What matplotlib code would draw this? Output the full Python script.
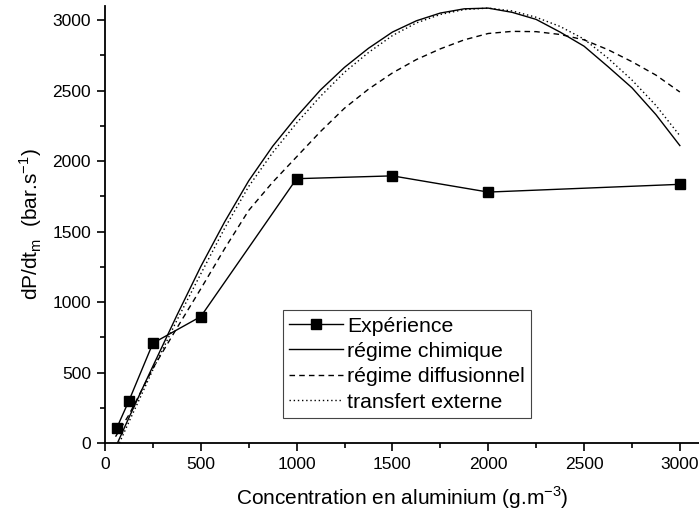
import matplotlib
matplotlib.use("Agg")
import matplotlib.pyplot as plt
from matplotlib.ticker import MultipleLocator

plt.rcParams['font.family'] = ['Liberation Sans', 'DejaVu Sans']

# Experimental points
exp_x = [62.5, 125, 250, 500, 1000, 1500, 2000, 3000]
exp_y = [110, 300, 708, 897, 1875, 1895, 1780, 1835]

# Model curves (dP/dt max vs. aluminium concentration)
chem_x = [65, 125, 188, 250, 375, 500, 625, 750, 875, 1000, 1125, 1250, 1375, 1500,
          1625, 1750, 1875, 2000, 2125, 2250, 2375, 2500, 2625, 2750, 2875, 3000]
chem_y = [0, 180, 365, 545, 905, 1252, 1570, 1860, 2105, 2315, 2505, 2665, 2800, 2915,
          2995, 3050, 3080, 3085, 3055, 3005, 2915, 2815, 2670, 2520, 2330, 2110]

diff_x = [55, 125, 188, 250, 375, 500, 625, 750, 875, 1000, 1125, 1250, 1375, 1500,
          1625, 1750, 1875, 2000, 2125, 2250, 2375, 2500, 2625, 2750, 2875, 3000]
diff_y = [45, 200, 365, 530, 815, 1094, 1380, 1650, 1850, 2030, 2210, 2375, 2510, 2625,
          2720, 2796, 2860, 2905, 2920, 2918, 2898, 2860, 2790, 2705, 2610, 2490]

ext_x = [75, 125, 188, 250, 375, 500, 625, 750, 875, 1000, 1125, 1250, 1375, 1500,
         1625, 1750, 1875, 2000, 2125, 2250, 2375, 2500, 2625, 2750, 2875, 3000]
ext_y = [0, 150, 335, 520, 870, 1200, 1525, 1820, 2060, 2270, 2460, 2630, 2770, 2890,
         2980, 3040, 3075, 3085, 3065, 3020, 2955, 2865, 2730, 2575, 2395, 2180]

fig = plt.figure(figsize=(6.99, 5.17), dpi=100)
ax = fig.add_axes([0.1502, 0.1431, 0.8498, 0.8453])

ax.plot(exp_x, exp_y, color='black', lw=1.0, marker='s', markersize=7.5,
        label='Expérience')
ax.plot(chem_x, chem_y, color='black', lw=1.0, ls='-', label='régime chimique')
ax.plot(diff_x, diff_y, color='black', lw=1.0, ls=(0, (4, 3)), label='régime diffusionnel')
ax.plot(ext_x, ext_y, color='black', lw=1.0, ls=(0, (1, 2)), label='transfert externe')

ax.set_xlim(0, 3100)
ax.set_ylim(0, 3100)
ax.xaxis.set_major_locator(MultipleLocator(500))
ax.xaxis.set_minor_locator(MultipleLocator(250))
ax.yaxis.set_major_locator(MultipleLocator(500))
ax.yaxis.set_minor_locator(MultipleLocator(250))
ax.tick_params(which='major', direction='out', length=6, width=1.2, labelsize=12.5, pad=4)
ax.tick_params(which='minor', direction='out', length=3.5, width=1.2)

for side in ['top', 'right']:
    ax.spines[side].set_visible(False)
for side in ['left', 'bottom']:
    ax.spines[side].set_linewidth(1.3)

ax.set_xlabel(r'Concentration en aluminium (g.m$^\mathregular{-3}$)', fontsize=15, labelpad=9)
ax.set_ylabel(r'dP/dt$_\mathregular{m}$  (bar.s$^\mathregular{-1}$)', fontsize=15, labelpad=6)

leg = ax.legend(loc='upper left', bbox_to_anchor=(0.2997, 0.304), fontsize=15.3,
                frameon=True, fancybox=False, edgecolor='#444444', framealpha=1,
                handlelength=2.5, handletextpad=0.2, labelspacing=0.3,
                borderpad=0.3, borderaxespad=0)
leg.get_frame().set_linewidth(0.8)

plt.savefig('out.png', dpi=100)
plt.close()
